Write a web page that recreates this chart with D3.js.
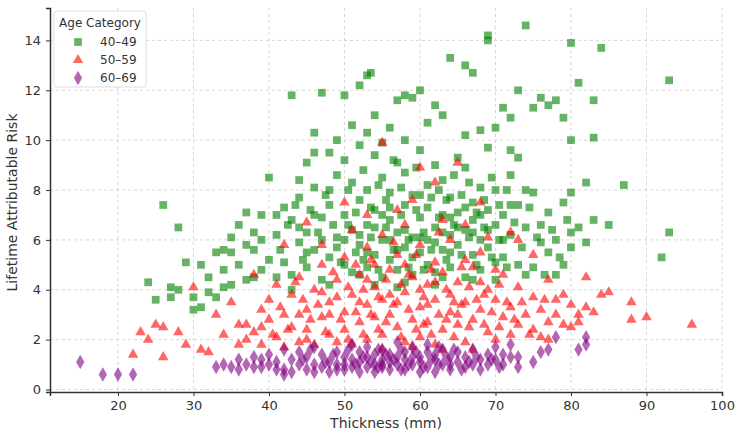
<!DOCTYPE html>
<html>
<head>
<script src="https://d3js.org/d3.v7.min.js"></script>
<style>
  body { margin: 0; background: #fff; }
  text { font-family: "DejaVu Sans", sans-serif; fill: #333; }
</style>
</head>
<body>
<div id="chart"></div>
<script>
// [x, y] pairs
var g4049 = [[26,7.4],[28,6.5],[24,4.3],[25,3.6],[27,3.7],[27,4.1],[29,5.1],[30,3.2],[31,3.3],[32,4.5],[33,5.5],[34,5.6],[35,4.2],[36,6.6],[37,7.1],[38,6.3],[39,6.0],[40,8.5],[41,7.0],[43,11.8],[45,9.1],[46,10.3],[47,11.9],[48,9.5],[50,11.8],[51,10.6],[52,12.2],[53,12.6],[53.5,12.7],[54,11.0],[55,9.9],[56,10.5],[57,11.6],[58,11.8],[59,11.7],[60,12.0],[62,11.4],[63,11.0],[64,13.3],[66,13.0],[67,12.7],[68,10.4],[69,14.0],[69,14.2],[70,10.5],[71,11.3],[72,10.9],[73,12.0],[74,14.6],[75,11.3],[76,11.7],[77,11.4],[78,11.6],[79,10.9],[80,13.9],[80,10.0],[81,12.3],[83,11.6],[83,10.1],[84,13.7],[82,8.3],[83,6.8],[87,8.2],[92,5.3],[93,6.3],[93,12.4],[80,7.9],[81,6.5],[79,5.0],[78,4.6],[77,5.5],[76,6.6],[75,4.9],[74,8.0],[73,9.3],
[41,6.2],[42,5.1],[42,7.3],[43,6.8],[43,4.6],[44,5.9],[44,7.7],[45,6.3],[45,4.9],[46,8.1],[46,5.6],[47,6.9],[47,4.4],[48,7.4],[48,5.3],[49,6.1],[49,8.6],[50,5.0],[50,7.0],[50,9.2],[51,6.4],[51,4.7],[51,8.3],[52,5.8],[52,7.6],[52,9.8],[53,6.6],[53,4.9],[53,8.0],[54,5.4],[54,7.2],[54,9.4],[55,6.0],[55,4.5],[55,8.5],[56,6.8],[56,5.2],[56,7.9],[57,6.3],[57,9.1],[57,4.8],[58,7.4],[58,5.7],[58,8.7],[59,6.1],[59,4.6],[59,7.8],[60,5.5],[60,6.9],[60,9.6],[61,7.3],[61,5.0],[61,8.2],[62,6.5],[62,4.7],[62,9.0],[63,7.0],[63,5.6],[63,8.4],[64,6.2],[64,4.9],[64,7.7],[65,5.8],[65,9.3],[65,7.1],[66,6.4],[66,4.5],[66,8.9],[67,7.5],[67,5.4],[67,6.8],[68,6.0],[68,8.1],[68,4.8],[69,7.2],[69,5.7],[69,9.7],[70,6.6],[70,4.4],[70,8.0],[71,7.0],[71,5.3],[72,6.2],[72,8.6],[73,5.0],[73,7.4],[74,6.5],[74,4.6],[75,7.9],[76,5.9],[77,7.1],[78,6.0],[79,7.5],[80,5.7],[40,5.2],[39,4.8],[38,5.6],[37,4.4],[36,5.0],[35,5.5],[34,4.1],[33,3.7],[32,3.9],[31,5.0],[52,6.2],[55,7.0],[58,6.4],[61,6.0],[64,6.9],[67,6.3],[47,6.0],[50,6.0],[53,5.5],[56,6.0],[59,5.3],[62,5.9],[65,6.5],[68,7.0],[71,6.0],[44,6.5],[46,7.0],[49,5.7],[57,5.6],[60,7.8],[63,6.3],[66,7.3],[69,6.4],[72,7.4],[54,6.5],[45,5.5],[58,4.3],[62,4.2],[70,5.1],[48,4.2],[43,4.0],
[41.5,5.6],[42.5,6.6],[43.5,7.4],[44.5,5.2],[45.5,7.2],[46.5,6.3],[47.5,7.8],[48.5,6.6],[49.5,5.1],[50.5,8.0],[50.5,6.6],[51.5,7.1],[51.5,5.5],[52.5,8.8],[52.5,5.2],[53.5,7.3],[53.5,6.1],[54.5,8.2],[54.5,4.8],[55.5,6.5],[55.5,7.6],[56.5,5.6],[56.5,9.2],[57.5,7.0],[57.5,8.1],[58.5,6.0],[58.5,4.9],[59.5,7.2],[59.5,8.9],[60.5,6.3],[60.5,4.8],[61.5,7.7],[61.5,5.6],[62.5,8.0],[62.5,6.9],[63.5,5.2],[63.5,7.6],[64.5,8.6],[64.5,6.6],[65.5,5.4],[65.5,7.8],[66.5,6.1],[66.5,8.3],[67.5,7.1],[67.5,5.0],[68.5,6.5],[68.5,7.6],[69.5,5.3],[69.5,8.5],[70.5,7.4],[70.5,6.0],[71.5,8.0],[71.5,4.9],[72.5,6.7],[73.5,5.7],[74.5,7.3],[75.5,6.1],[76.5,4.6],[77.5,6.4],[78.5,5.3],[79.5,6.8],[46,9.5],[49,10.0],[53,10.3],[58,10.0],[61,10.7],[66,10.2],[72,9.6],[56,7.3],[60,6.1],[64,5.5],[52,4.6],[48,8.0],[44,8.4],[39,7.0],[37,5.8],[35,6.1],[34,4.8],[30,3.7],[28,4.0],[38,4.5],[41,4.5],[67,4.4],[63,4.5],[54,4.2],[57,4.1],[85,6.6],[80,6.3],[82,5.9]];

var g5059 = [[23,2.3],[24,2.0],[25,2.6],[26,1.3],[22,1.4],[26,2.5],[29,1.8],[31,1.6],[32,1.5],[28,2.3],[30,4.1],[33,3.0],[35,3.5],[36,2.6],[37,2.0],[38,4.6],[39,3.2],[42,5.8],[45,6.7],[50,7.5],[55,9.9],[60,8.9],[62,8.3],[65,9.1],[68,7.5],[72,6.3],[73,6.0],[75,5.4],[77,4.4],[79,3.8],[80,3.4],[81,2.7],[82,3.3],[83,3.1],[84,3.8],[85,3.9],[88,3.5],[88,2.8],[90,2.9],[96,2.6],[82,4.5],[80,2.5],[78,3.0],[76,2.1],
[38,2.3],[39,1.8],[40,2.8],[40,3.6],[41,2.1],[41,4.2],[42,3.0],[42,1.7],[43,3.8],[43,2.5],[44,4.5],[44,1.9],[45,3.2],[45,2.4],[46,4.0],[46,1.8],[47,2.9],[47,5.0],[48,3.5],[48,2.2],[49,4.4],[49,1.9],[50,3.1],[50,5.3],[50,2.4],[51,3.8],[51,1.8],[52,4.6],[52,2.7],[53,3.4],[53,5.7],[53,2.0],[54,4.1],[54,2.9],[55,3.6],[55,6.2],[55,2.2],[56,4.8],[56,3.0],[57,2.5],[57,5.4],[58,3.9],[58,1.9],[58,6.6],[59,2.8],[59,4.5],[60,3.3],[60,5.8],[60,2.1],[61,4.2],[61,2.7],[62,3.6],[62,5.1],[62,1.8],[63,4.7],[63,2.4],[64,3.1],[64,6.0],[65,2.6],[65,4.3],[66,3.5],[66,1.9],[67,4.9],[67,2.8],[68,3.2],[68,5.5],[69,2.3],[69,4.0],[70,3.6],[70,2.0],[71,4.6],[71,2.9],[72,3.3],[72,2.2],[73,4.1],[73,2.6],[74,3.0],[75,3.7],[75,2.4],[76,3.2],[77,2.7],[78,3.6],[52,3.5],[56,3.8],[60,4.0],[64,3.8],[68,4.3],[48,3.0],[44,3.0],[47,3.9],[54,5.0],[58,5.0],[62,4.3],[66,5.2],[70,4.8],[57,3.5],[61,3.4],[65,3.0],[53,4.4],[49,3.7],[45,2.0],[55,1.6],[63,1.6],[59,1.7],[67,1.6],
[40.5,2.2],[41.5,3.3],[42.5,2.4],[43.5,4.3],[44.5,3.6],[45.5,2.8],[46.5,3.4],[47.5,2.3],[48.5,4.7],[49.5,2.8],[50.5,4.1],[50.5,2.0],[51.5,3.1],[51.5,5.0],[52.5,2.2],[52.5,4.0],[53.5,3.0],[53.5,5.2],[54.5,2.4],[54.5,3.7],[55.5,4.4],[55.5,2.7],[56.5,3.4],[56.5,5.9],[57.5,4.2],[57.5,2.1],[58.5,3.2],[58.5,4.6],[59.5,2.4],[59.5,5.4],[60.5,3.7],[60.5,2.6],[61.5,4.8],[61.5,2.2],[62.5,3.0],[62.5,6.3],[63.5,4.0],[63.5,2.8],[64.5,3.5],[64.5,2.1],[65.5,4.9],[65.5,3.4],[66.5,2.5],[66.5,4.1],[67.5,3.6],[68.5,2.6],[68.5,3.8],[69.5,3.1],[70.5,4.2],[70.5,2.5],[71.5,3.5],[72.5,2.8],[73.5,3.5],[74.5,2.2],[76.5,3.6],[79,2.6],[81,3.0],[77,2.0],[36,1.8],[37,2.6],[39,2.5],[34,2.2],[57,7.2],[63,6.8],[47,5.8],[51,6.4],[69,6.1],[53,7.0],[59,7.6],[66,6.6]];

var g6069 = [[15,1.1],[18,0.6],[20,0.6],[22,0.6],[33,0.9],[34,1.0],[35,0.9],[36,1.2],[75,1.1],[76,1.5],[77,1.6],[78,2.1],[81,1.6],[82,1.8],[82,2.1],[73,1.3],[73,0.9],[42,0.6],
[37,1.0],[38,1.3],[39,0.9],[40,1.4],[41,1.1],[42,1.6],[42,0.8],[43,1.2],[43,0.7],[44,1.5],[44,1.0],[45,0.8],[45,1.3],[46,1.7],[46,1.0],[47,0.9],[47,1.4],[48,1.1],[48,0.7],[49,1.5],[49,1.0],[50,0.8],[50,1.3],[51,1.8],[51,0.9],[51,1.2],[52,1.5],[52,0.7],[52,1.1],[53,1.3],[53,0.9],[53,1.7],[54,1.0],[54,1.4],[54,0.7],[55,1.2],[55,1.6],[55,0.9],[56,1.1],[56,1.4],[56,0.8],[57,1.3],[57,1.9],[57,1.0],[58,0.8],[58,1.2],[58,1.5],[59,1.0],[59,1.7],[60,0.7],[60,1.3],[60,1.1],[61,1.5],[61,0.9],[61,1.8],[62,1.2],[62,0.7],[62,1.4],[63,1.0],[63,1.6],[64,1.3],[64,0.8],[65,1.1],[65,1.5],[66,0.9],[66,1.3],[67,1.6],[67,1.0],[68,1.2],[68,0.8],[69,1.4],[69,1.0],[70,1.2],[70,1.7],[71,1.0],[71,1.4],[72,1.3],[72,1.8],[38,0.9],[40,1.0],[36,0.8],[50,1.0],[55,1.0],[64,1.0],[59,1.3],
[44.5,1.2],[45.5,1.6],[47.5,1.1],[48.5,1.4],[50.5,1.6],[51.5,1.0],[52.5,1.3],[53.5,1.1],[54.5,1.6],[54.5,0.9],[55.5,1.4],[56.5,1.2],[57.5,0.8],[57.5,1.6],[58.5,1.0],[59.5,1.5],[60.5,0.9],[61.5,1.2],[62.5,1.0],[62.5,1.7],[63.5,1.3],[64.5,1.6],[65.5,0.8],[66.5,1.1],[67.5,1.3],[69.5,1.2],[70.5,0.9],[49,0.8],[46,0.7],[41,0.8],[39,1.2]];

var categories = ["40-49", "50-59", "60-69"];
var xTicks = [20, 30, 40, 50, 60, 70, 80, 90, 100];
var yTicks = [0, 2, 4, 6, 8, 10, 12, 14];

var series = [
  { name: categories[0], data: g4049, color: "green", sym: d3.symbolSquare, size: 60 },
  { name: categories[1], data: g5059, color: "red", sym: d3.symbolTriangle, size: 48 },
  { name: categories[2], data: g6069, color: "purple", sym: d3.symbolDiamond, size: 60 }
];

var W = 744, H = 434;
var m = { left: 50, right: 22, top: 8, bottom: 42 };
var svg = d3.select("#chart").append("svg").attr("width", W).attr("height", H);

var x = d3.scaleLinear().domain([11, 100]).range([m.left, W - m.right]);
var y = d3.scaleLinear().domain([-0.1, 15.3]).range([H - m.bottom, m.top]);

// grid
svg.append("g").selectAll("line").data(xTicks).enter().append("line")
  .attr("x1", d => x(d)).attr("x2", d => x(d)).attr("y1", m.top).attr("y2", H - m.bottom)
  .attr("stroke", "#ccc").attr("stroke-dasharray", "3,3").attr("stroke-width", 0.8);
svg.append("g").selectAll("line").data(yTicks).enter().append("line")
  .attr("y1", d => y(d)).attr("y2", d => y(d)).attr("x1", m.left).attr("x2", W - m.right)
  .attr("stroke", "#ccc").attr("stroke-dasharray", "3,3").attr("stroke-width", 0.8);

// points
series.forEach(function(s) {
  svg.append("g").selectAll("path").data(s.data).enter().append("path")
    .attr("d", d3.symbol().type(s.sym).size(s.size))
    .attr("transform", d => "translate(" + x(d[0]) + "," + y(d[1]) + ")")
    .attr("fill", s.color).attr("fill-opacity", 0.6);
});

// axes
var xa = svg.append("g").attr("transform", "translate(0," + (H - m.bottom) + ")")
  .call(d3.axisBottom(x).tickValues(xTicks).tickSize(4).tickPadding(5));
var ya = svg.append("g").attr("transform", "translate(" + m.left + ",0)")
  .call(d3.axisLeft(y).tickValues(yTicks).tickSize(4).tickPadding(5));
[xa, ya].forEach(function(a) {
  a.select(".domain").attr("stroke", "#333").attr("stroke-width", 1.5);
  a.selectAll("text").attr("font-size", 13).style("fill", "#333");
  a.selectAll(".tick line").attr("stroke", "#333");
});

svg.append("text").attr("x", x(55.5)).attr("y", H - 6).attr("text-anchor", "middle")
  .attr("font-size", 14).text("Thickness (mm)");
svg.append("text").attr("transform", "translate(17," + y(7.5) + ") rotate(-90)")
  .attr("text-anchor", "middle").attr("font-size", 14).text("Lifetime Attributable Risk");

// legend
var lg = svg.append("g").attr("transform", "translate(54,11)");
lg.append("rect").attr("width", 92).attr("height", 76).attr("rx", 3)
  .attr("fill", "#fff").attr("fill-opacity", 0.85).attr("stroke", "#ddd");
lg.append("text").attr("x", 46).attr("y", 16).attr("text-anchor", "middle")
  .attr("font-size", 12).text("Age Category");
series.forEach(function(s, i) {
  var yy = 31 + i * 18;
  lg.append("path").attr("d", d3.symbol().type(s.sym).size(s.size))
    .attr("transform", "translate(24," + yy + ")").attr("fill", s.color).attr("fill-opacity", 0.6);
  lg.append("text").attr("x", 46).attr("y", yy + 4).attr("font-size", 12).text(s.name.replace("-", "–"));
});
</script>
</body>
</html>
